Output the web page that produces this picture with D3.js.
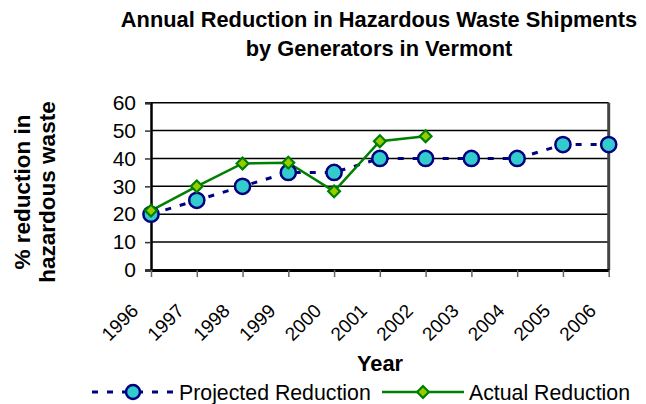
<!DOCTYPE html>
<html>
<head>
<meta charset="utf-8">
<script src="https://cdn.jsdelivr.net/npm/d3@7"></script>
<style>
  body { margin: 0; background: #fff; }
  svg { display: block; font-family: Arial, "Liberation Sans", sans-serif; }
</style>
</head>
<body>
<div id="chart"></div>
<script>
// data
var years = ["1996", "1997", "1998", "1999", "2000", "2001", "2002", "2003", "2004", "2005", "2006"];
var projected = [20, 25, 30, 35, 35, 40, 40, 40, 40, 45, 45];
var actual = [21.3, 30, 38.2, 38.5, 28.2, 46.2, 48];
var yTicks = [0, 10, 20, 30, 40, 50, 60];

var W = 646, H = 404;
var margin = {top: 102.7, right: 37.3, bottom: 134, left: 151};
var width = W - margin.left - margin.right,
	height = H - margin.top - margin.bottom;

var svg = d3.select("#chart").append("svg")
	.attr("width", W)
	.attr("height", H);

// title
var title = svg.append("text")
	.attr("text-anchor", "middle")
	.style("font-weight", "bold")
	.style("font-size", "21.8px");
title.append("tspan").attr("x", 379).attr("y", 27).text("Annual Reduction in Hazardous Waste Shipments");
title.append("tspan").attr("x", 379).attr("y", 56).text("by Generators in Vermont");

var g = svg.append("g")
	.attr("transform", "translate(" + margin.left + "," + margin.top + ")");

// scales
var xScale = d3.scalePoint()
	.domain(years)
	.range([0, width]);

var yScale = d3.scaleLinear()
	.domain([0, 60])
	.range([height, 0]);

// gridlines
g.selectAll(".grid")
	.data(yTicks.filter(function(d) { return d > 0; }))
	.enter().append("line")
	.attr("x1", 0).attr("x2", width)
	.attr("y1", function(d) { return yScale(d); })
	.attr("y2", function(d) { return yScale(d); })
	.attr("stroke", "#000")
	.attr("stroke-width", 1.5);

// right border
g.append("line")
	.attr("x1", width).attr("x2", width)
	.attr("y1", 0).attr("y2", height)
	.attr("stroke", "#444")
	.attr("stroke-width", 3);

// y axis
var yAxis = g.append("g")
	.call(d3.axisLeft(yScale).tickValues(yTicks).tickSize(6).tickPadding(9));
yAxis.select(".domain").attr("stroke", "#000").attr("stroke-width", 2.5);
yAxis.selectAll(".tick line").attr("stroke", "#333").attr("stroke-width", 1.5);
yAxis.selectAll(".tick text")
	.style("font-size", "21px")
	.attr("fill", "#000");

// x axis
var xAxis = g.append("g")
	.attr("transform", "translate(0," + height + ")")
	.call(d3.axisBottom(xScale).tickSize(7).tickSizeOuter(0));
xAxis.select(".domain").attr("stroke", "#000").attr("stroke-width", 3);
xAxis.selectAll(".tick line").attr("stroke", "#666").attr("stroke-width", 1.5);
xAxis.selectAll(".tick text")
	.style("font-size", "19px")
	.attr("fill", "#000")
	.attr("text-anchor", "end")
	.attr("y", 0)
	.attr("dy", 0)
	.attr("transform", "translate(-12,42) rotate(-45)");

// axis titles
svg.append("text")
	.attr("x", 380)
	.attr("y", 371)
	.attr("text-anchor", "middle")
	.style("font-weight", "bold")
	.style("font-size", "21.8px")
	.text("Year");

var ylab = svg.append("text")
	.attr("transform", "translate(0,192) rotate(-90)")
	.attr("text-anchor", "middle")
	.style("font-weight", "bold")
	.style("font-size", "22.5px");
ylab.append("tspan").attr("x", 0).attr("y", 30).text("% reduction in");
ylab.append("tspan").attr("x", 0).attr("y", 55).text("hazardous waste");

// lines
var line = d3.line()
	.x(function(d, i) { return xScale(years[i]); })
	.y(function(d) { return yScale(d); });

g.append("path")
	.datum(projected)
	.attr("d", line)
	.attr("fill", "none")
	.attr("stroke", "#000080")
	.attr("stroke-width", 3)
	.attr("stroke-dasharray", "6,9");

g.append("path")
	.datum(actual)
	.attr("d", line)
	.attr("fill", "none")
	.attr("stroke", "#008000")
	.attr("stroke-width", 2.5);

// markers
g.selectAll(".proj")
	.data(projected)
	.enter().append("circle")
	.attr("cx", function(d, i) { return xScale(years[i]); })
	.attr("cy", function(d) { return yScale(d); })
	.attr("r", 7.6)
	.attr("fill", "#33cccc")
	.attr("stroke", "#000080")
	.attr("stroke-width", 2.5);

var diamond = d3.symbol().type(d3.symbolSquare).size(70);
g.selectAll(".act")
	.data(actual)
	.enter().append("path")
	.attr("d", diamond)
	.attr("transform", function(d, i) { return "translate(" + xScale(years[i]) + "," + yScale(d) + ") rotate(45)"; })
	.attr("fill", "#99cc00")
	.attr("stroke", "#008000")
	.attr("stroke-width", 2.2);

// legend
var leg = svg.append("g").attr("transform", "translate(0,392)");
leg.append("line")
	.attr("x1", 92).attr("x2", 176)
	.attr("stroke", "#000080").attr("stroke-width", 3)
	.attr("stroke-dasharray", "6,9");
leg.append("circle")
	.attr("cx", 133).attr("r", 7)
	.attr("fill", "#33cccc").attr("stroke", "#000080").attr("stroke-width", 2.5);
leg.append("text")
	.attr("x", 179).attr("y", 7.5)
	.style("font-size", "21.3px")
	.text("Projected Reduction");

leg.append("line")
	.attr("x1", 382).attr("x2", 464)
	.attr("stroke", "#008000").attr("stroke-width", 2.5);
leg.append("path")
	.attr("d", diamond)
	.attr("transform", "translate(423,0) rotate(45)")
	.attr("fill", "#99cc00").attr("stroke", "#008000").attr("stroke-width", 2.2);
leg.append("text")
	.attr("x", 469).attr("y", 7.5)
	.style("font-size", "21.3px")
	.text("Actual Reduction");
</script>
</body>
</html>
